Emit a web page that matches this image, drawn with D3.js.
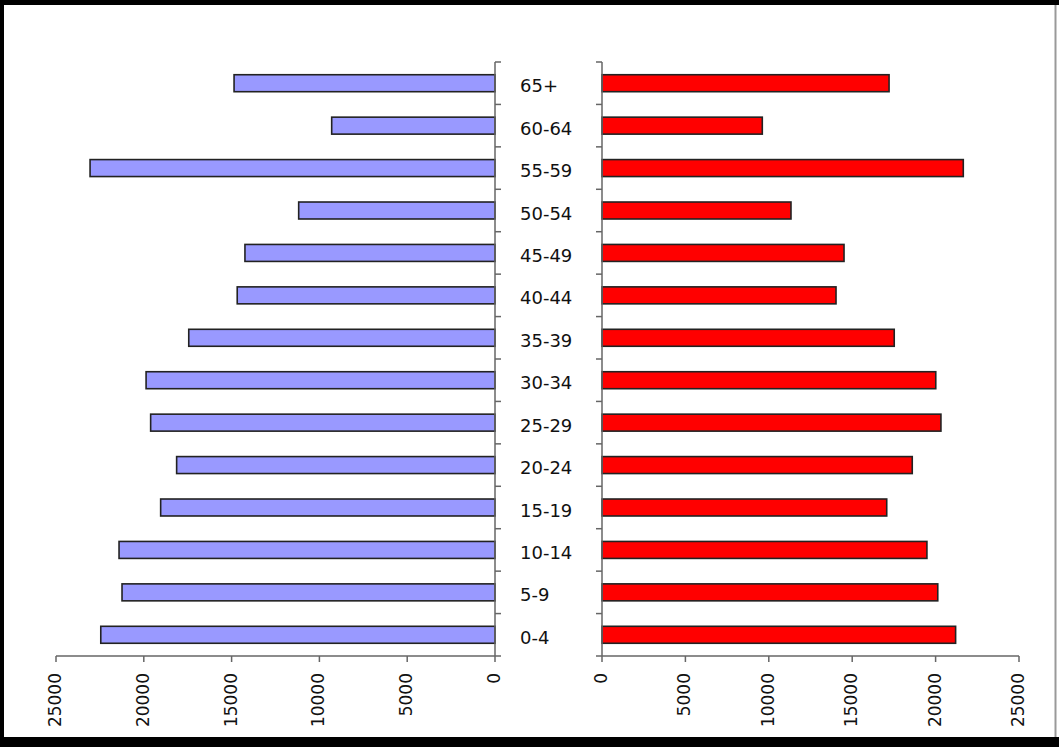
<!DOCTYPE html>
<html>
<head>
<meta charset="utf-8">
<script src="https://cdn.jsdelivr.net/npm/d3@7"></script>
<style>
  html, body { margin: 0; padding: 0; background: #000; }
  svg { display: block; }
</style>
</head>
<body>
<div id="chart"></div>
<script>
// age groups, bottom to top
const AGE_GROUPS = ["0-4", "5-9", "10-14", "15-19", "20-24", "25-29", "30-34",
  "35-39", "40-44", "45-49", "50-54", "55-59", "60-64", "65+"];

// left side (blue) values
const LEFT_VALUES = [22450, 21240, 21410, 19040, 18130, 19610, 19870,
  17440, 14680, 14240, 11180, 23060, 9300, 14860];

// right side (red) values
const RIGHT_VALUES = [21200, 20130, 19480, 17070, 18600, 20320, 20010,
  17520, 14030, 14510, 11330, 21660, 9610, 17210];

const X_TICKS = [0, 5000, 10000, 15000, 20000, 25000];
const X_MAX = 25000;

const W = 1059, H = 747;

const svg = d3.select("#chart").append("svg")
  .attr("width", W)
  .attr("height", H);

// black frame with white inside
svg.append("rect").attr("x", 0).attr("y", 0).attr("width", W).attr("height", H).attr("fill", "#000");
svg.append("rect").attr("x", 4).attr("y", 5).attr("width", W - 4).attr("height", 732).attr("fill", "#fff");
svg.append("line")
  .attr("x1", 1055.5).attr("x2", 1055.5).attr("y1", 5).attr("y2", 737)
  .attr("stroke", "#999").attr("stroke-width", 2);

const plotTop = 62, plotBottom = 656;
const leftZero = 495, leftEnd = 56;
const rightZero = 602, rightEnd = 1019;

const y = d3.scaleBand()
  .domain(AGE_GROUPS.slice().reverse())
  .range([plotTop, plotBottom])
  .paddingInner(0.6)
  .paddingOuter(0.3);

const xLeft = d3.scaleLinear().domain([0, X_MAX]).range([leftZero, leftEnd]);
const xRight = d3.scaleLinear().domain([0, X_MAX]).range([rightZero, rightEnd]);

const data = AGE_GROUPS.map((g, i) => ({ group: g, left: LEFT_VALUES[i], right: RIGHT_VALUES[i] }));

// bars
svg.selectAll(".bar-left")
  .data(data)
  .enter()
  .append("rect")
  .attr("class", "bar-left")
  .attr("x", d => xLeft(d.left))
  .attr("y", d => y(d.group))
  .attr("width", d => leftZero - xLeft(d.left))
  .attr("height", y.bandwidth())
  .attr("fill", "#9999FF")
  .attr("stroke", "#222")
  .attr("stroke-width", 1.6);

svg.selectAll(".bar-right")
  .data(data)
  .enter()
  .append("rect")
  .attr("class", "bar-right")
  .attr("x", rightZero)
  .attr("y", d => y(d.group))
  .attr("width", d => xRight(d.right) - rightZero)
  .attr("height", y.bandwidth())
  .attr("fill", "#FF0000")
  .attr("stroke", "#222")
  .attr("stroke-width", 1.6);

// category boundaries for tick marks
const step = y.step();
const bounds = y.domain().map(g => y(g) - step * 0.3).concat([plotBottom]);

const axisColor = "#666";

// vertical category axes
[[leftZero, 6], [rightZero, -6]].forEach(([ax, dir]) => {
  svg.append("line")
    .attr("x1", ax).attr("x2", ax).attr("y1", plotTop).attr("y2", plotBottom)
    .attr("stroke", axisColor).attr("stroke-width", 1.5);
  svg.selectAll(null)
    .data(bounds)
    .enter()
    .append("line")
    .attr("x1", ax).attr("x2", ax + dir)
    .attr("y1", d => d).attr("y2", d => d)
    .attr("stroke", axisColor).attr("stroke-width", 1.5);
});

// category labels
svg.selectAll(".cat-label")
  .data(AGE_GROUPS)
  .enter()
  .append("text")
  .attr("class", "cat-label")
  .attr("x", 520)
  .attr("y", d => y(d) + y.bandwidth() / 2 + 4)
  .attr("dominant-baseline", "middle")
  .attr("font-family", "DejaVu Sans, sans-serif")
  .attr("font-size", "18px")
  .attr("fill", "#111")
  .text(d => d);

// bottom value axes
function drawValueAxis(scale, x0, x1) {
  svg.append("line")
    .attr("x1", x0).attr("x2", x1).attr("y1", plotBottom).attr("y2", plotBottom)
    .attr("stroke", axisColor).attr("stroke-width", 1.5);
  svg.selectAll(null)
    .data(X_TICKS)
    .enter()
    .append("line")
    .attr("x1", d => scale(d)).attr("x2", d => scale(d))
    .attr("y1", plotBottom).attr("y2", plotBottom + 6)
    .attr("stroke", axisColor).attr("stroke-width", 1.5);
  svg.selectAll(null)
    .data(X_TICKS)
    .enter()
    .append("text")
    .attr("transform", d => `translate(${scale(d)},673) rotate(-90)`)
    .attr("text-anchor", "end")
    .attr("dominant-baseline", "middle")
    .attr("font-family", "DejaVu Sans, sans-serif")
    .attr("font-size", "17px")
    .attr("fill", "#111")
    .text(d => d);
}
drawValueAxis(xLeft, leftEnd, leftZero);
drawValueAxis(xRight, rightZero, rightEnd);
</script>
</body>
</html>
